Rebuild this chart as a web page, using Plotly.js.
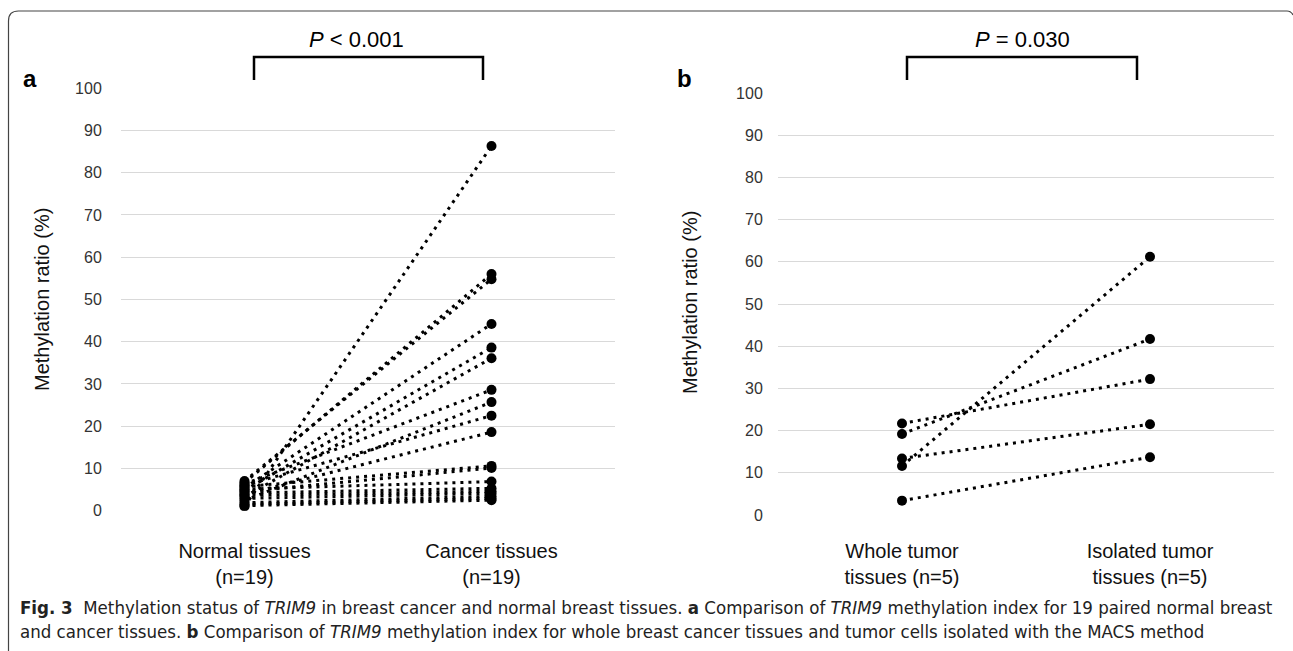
<!DOCTYPE html>
<html>
<head>
<meta charset="utf-8">
<script src="https://cdn.plot.ly/plotly-3.0.1.min.js"></script>
<style>
html,body{margin:0;padding:0;background:#fff;}
#chart{width:1293px;height:651px;}
</style>
</head>
<body>
<div id="chart"></div>
<script>
// ---- Data ----
const catsA = ['Normal tissues<br>(n=19)', 'Cancer tissues<br>(n=19)'];
const normalA = [1.0, 6.6, 7.0, 5.4, 4.8, 3.3, 6.3, 2.4, 6.0, 3.9, 5.7, 4.5, 5.1, 4.2, 3.6, 2.9, 1.9, 1.5, 1.2];
const cancerA = [86.3, 56.0, 54.8, 44.2, 38.6, 36.1, 28.6, 25.7, 22.5, 18.6, 10.6, 10.1, 6.9, 5.3, 4.6, 4.1, 3.4, 2.9, 2.5];

const catsB = ['Whole tumor<br>tissues (n=5)', 'Isolated tumor<br>tissues (n=5)'];
const wholeB = [21.7, 19.2, 13.4, 11.6, 3.4];
const isolatedB = [32.2, 41.7, 21.5, 61.2, 13.7];

const yTicks = [0, 10, 20, 30, 40, 50, 60, 70, 80, 90, 100];
const yTitle = 'Methylation ratio (%)';
const pA = '<i>P</i> < 0.001';
const pB = '<i>P</i> = 0.030';
const caption1 = '<b>Fig. 3</b>  Methylation status of <i>TRIM9</i> in breast cancer and normal breast tissues. <b>a</b> Comparison of <i>TRIM9</i> methylation index for 19 paired normal breast';
const caption2 = 'and cancer tissues. <b>b</b> Comparison of <i>TRIM9</i> methylation index for whole breast cancer tissues and tumor cells isolated with the MACS method';

// ---- helpers: pixel -> paper ----
const W = 1293, H = 651;
const px = x => x / W;
const py = y => 1 - y / H;

const lineStyle = {color: '#000', width: 3, dash: '3px,5px'};
const markerStyle = {color: '#000', size: 10};

const traces = [];
for (let i = 0; i < normalA.length; i++) {
  traces.push({
    x: catsA, y: [normalA[i], cancerA[i]],
    xaxis: 'x', yaxis: 'y', type: 'scatter', mode: 'lines+markers',
    line: lineStyle, marker: markerStyle, hoverinfo: 'skip', showlegend: false
  });
}
for (let i = 0; i < wholeB.length; i++) {
  traces.push({
    x: catsB, y: [wholeB[i], isolatedB[i]],
    xaxis: 'x2', yaxis: 'y2', type: 'scatter', mode: 'lines+markers',
    line: lineStyle, marker: markerStyle, hoverinfo: 'skip', showlegend: false
  });
}

const font = 'Liberation Sans, Arial, sans-serif';
const capFont = 'DejaVu Sans Condensed, Noto Sans, sans-serif';
const yAxisBase = {
  range: [0, 100], tickvals: yTicks, showgrid: true, gridcolor: '#d9d9d9', gridwidth: 1,
  zeroline: false, showline: false, ticks: 'outside', tickcolor: 'rgba(0,0,0,0)',
  tickfont: {family: font, size: 16, color: '#333'}, fixedrange: true
};
const xAxisBase = {
  type: 'category', range: [-0.5, 1.5], showgrid: false, zeroline: false, showline: false,
  ticks: 'outside', tickcolor: 'rgba(0,0,0,0)',
  tickfont: {family: font, size: 20, color: '#111'}, fixedrange: true
};

const frameY = 11, frameX = 8.5, r = 10;
const framePath = `M ${px(frameX)} ${py(660)} L ${px(frameX)} ${py(frameY + r)} Q ${px(frameX)} ${py(frameY)} ${px(frameX + r)} ${py(frameY)} L ${px(1287)} ${py(frameY)} Q ${px(1291)} ${py(frameY)} ${px(1293)} ${py(frameY + 4)}`;

function bracket(x0, x1) {
  return {type: 'path', xref: 'paper', yref: 'paper',
    path: `M ${px(x0)} ${py(80)} L ${px(x0)} ${py(57)} L ${px(x1)} ${py(57)} L ${px(x1)} ${py(80)}`,
    line: {color: '#000', width: 2.5}};
}

const layout = {
  width: W, height: H, margin: {l: 0, r: 0, t: 0, b: 0},
  paper_bgcolor: '#fff', plot_bgcolor: '#fff', showlegend: false,
  xaxis: Object.assign({}, xAxisBase, {domain: [px(121), px(615)], anchor: 'y', ticklen: 22}),
  yaxis: Object.assign({}, yAxisBase, {domain: [py(510.7), py(88.2)], anchor: 'x', ticklen: 15}),
  xaxis2: Object.assign({}, xAxisBase, {domain: [px(778), px(1274)], anchor: 'y2', ticklen: 18}),
  yaxis2: Object.assign({}, yAxisBase, {domain: [py(515), py(93)], anchor: 'x2', ticklen: 11}),
  shapes: [
    {type: 'path', xref: 'paper', yref: 'paper', path: framePath, line: {color: '#444', width: 1.2}},
    bracket(254, 483),
    bracket(907, 1137)
  ],
  annotations: [
    {text: pA, xref: 'paper', yref: 'paper', x: px(357), y: py(40), showarrow: false,
     xanchor: 'center', yanchor: 'middle', font: {family: font, size: 22, color: '#000'}},
    {text: pB, xref: 'paper', yref: 'paper', x: px(1022), y: py(40), showarrow: false,
     xanchor: 'center', yanchor: 'middle', font: {family: font, size: 22, color: '#000'}},
    {text: '<b>a</b>', xref: 'paper', yref: 'paper', x: px(30), y: py(78), showarrow: false,
     xanchor: 'center', yanchor: 'middle', font: {family: font, size: 24, color: '#000'}},
    {text: '<b>b</b>', xref: 'paper', yref: 'paper', x: px(684), y: py(78), showarrow: false,
     xanchor: 'center', yanchor: 'middle', font: {family: font, size: 24, color: '#000'}},
    {text: yTitle, xref: 'paper', yref: 'paper', x: px(42), y: py(300), showarrow: false, textangle: -90,
     xanchor: 'center', yanchor: 'middle', font: {family: font, size: 20, color: '#111'}},
    {text: yTitle, xref: 'paper', yref: 'paper', x: px(690), y: py(302), showarrow: false, textangle: -90,
     xanchor: 'center', yanchor: 'middle', font: {family: font, size: 20, color: '#111'}},
    {text: caption1, xref: 'paper', yref: 'paper', x: px(18), y: py(607), showarrow: false,
     xanchor: 'left', yanchor: 'middle', font: {family: capFont, size: 18.5, color: '#222'}},
    {text: caption2, xref: 'paper', yref: 'paper', x: px(18), y: py(631), showarrow: false,
     xanchor: 'left', yanchor: 'middle', font: {family: capFont, size: 18.5, color: '#222'}}
  ]
};

Plotly.newPlot('chart', traces, layout, {staticPlot: true, displayModeBar: false});
</script>
</body>
</html>
